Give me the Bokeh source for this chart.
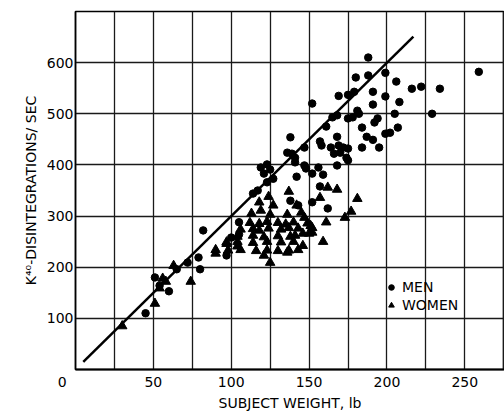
from bokeh.plotting import figure
from bokeh.models import Range1d, FixedTicker, Legend, LegendItem
from bokeh.embed import file_html
from bokeh.resources import INLINE

# Data (subject weight in lb, K-40 disintegrations/sec)
men_x = [45, 51, 54, 60, 65, 72, 79, 80, 82, 97, 100, 105, 105, 114, 117, 119, 123, 125, 121, 127,
         123, 136, 139, 141, 138, 141, 142, 147, 148, 152, 156, 159, 147, 152, 157, 158, 161, 164, 168, 169,
         172, 175, 166, 170, 174, 175, 168, 165, 168, 169, 175, 179, 175, 178, 181, 182, 180, 184, 184, 187,
         191, 195, 188, 188, 191, 191, 194, 192, 199, 199, 199, 202, 206, 207, 208, 205, 216, 222, 234, 229,
         259, 152, 162, 157, 138, 143]
men_y = [110, 180, 164, 153, 196, 209, 219, 196, 272, 223, 258, 288, 264, 344, 350, 395, 401, 391, 383, 373,
         366, 424, 422, 414, 454, 405, 377, 399, 393, 383, 395, 381, 434, 520, 446, 438, 475, 434, 455, 438,
         434, 432, 422, 424, 414, 409, 399, 493, 497, 535, 537, 543, 491, 493, 506, 500, 571, 434, 473, 455,
         449, 434, 610, 575, 543, 518, 491, 483, 580, 534, 461, 463, 563, 473, 523, 500, 549, 553, 549, 500,
         582, 327, 315, 358, 330, 321]

women_x = [30, 51, 54, 56, 58, 63, 74, 90, 97, 104,
           113, 118, 119, 124, 125, 127, 136, 137, 142, 145, 147, 157, 162, 168, 181, 177, 173, 161, 159, 146,
           112, 118, 123, 130, 135, 140, 149,
           106, 114, 118, 124, 132, 137, 143, 152, 151,
           104, 114, 121, 130, 138, 141, 146, 150, 152,
           97, 104, 114, 123, 132, 140,
           90, 98, 106, 116, 123, 130, 137, 143,
           121, 136, 125]
women_y = [85, 129, 159, 178, 172, 203, 172, 227, 246, 241,
           305, 327, 311, 338, 303, 321, 303, 348, 321, 307, 297, 336, 356, 352, 334, 309, 297, 288, 250, 242,
           287, 285, 289, 287, 284, 288, 286,
           274, 275, 272, 276, 274, 277, 276, 277, 281,
           260, 262, 259, 261, 260, 262, 266, 266, 268,
           249, 250, 248, 250, 249, 250,
           234, 233, 234, 232, 233, 232, 233, 234,
           223, 229, 209]

fit_x = [5, 217]
fit_y = [15, 651]

x_ticks = [0, 50, 100, 150, 200, 250]
x_grid = [25, 50, 75, 100, 125, 150, 175, 200, 225, 250, 275]
y_ticks = [100, 200, 300, 400, 500, 600]

FONT = "DejaVu Sans"

p = figure(width=504, height=413, output_backend="svg", toolbar_location=None,
           x_range=Range1d(0, 275.5), y_range=Range1d(0, 700),
           min_border_left=75, min_border_right=0, min_border_top=11, min_border_bottom=44,
           background_fill_color="white", border_fill_color="white")

p.outline_line_color = "black"
p.outline_line_width = 1.5

# grid
p.xgrid.ticker = FixedTicker(ticks=x_grid)
p.ygrid.ticker = FixedTicker(ticks=y_ticks)
for g in (p.xgrid, p.ygrid):
    g.grid_line_color = "#1a1a1a"
    g.grid_line_width = 1.3

# axes
p.xaxis.ticker = FixedTicker(ticks=x_ticks)
p.yaxis.ticker = FixedTicker(ticks=y_ticks)
# the corner "0" sits left of the origin in the original
p.xaxis.major_label_overrides = {0: "0\u00a0\u00a0\u00a0\u00a0\u00a0\u00a0"}
for ax in (p.xaxis, p.yaxis):
    ax.major_tick_line_color = None
    ax.minor_tick_line_color = None
    ax.major_tick_out = 0
    ax.major_tick_in = 0
    ax.axis_line_color = "black"
    ax.major_label_text_font = FONT
    ax.major_label_text_font_size = "14px"
    ax.major_label_text_color = "black"
    ax.axis_label_text_font = FONT
    ax.axis_label_text_font_size = "14px"
    ax.axis_label_text_font_style = "normal"
    ax.axis_label_text_color = "black"
p.xaxis.axis_line_width = 2
p.yaxis.axis_line_width = 1.5
p.xaxis.major_label_standoff = 4
p.yaxis.major_label_standoff = 2
p.xaxis.axis_label = "SUBJECT WEIGHT, lb"
p.yaxis.axis_label = "K\u2074\u2070-DISINTEGRATIONS/ SEC"
p.xaxis.axis_label_standoff = 2
p.yaxis.axis_label_standoff = 5

# fitted line
p.line(fit_x, fit_y, line_color="black", line_width=2.5)

r_men = p.scatter(men_x, men_y, marker="circle", size=7.5, fill_color="black", line_color="black")
r_women = p.scatter(women_x, women_y, marker="triangle", size=9.5, fill_color="black", line_color="black")

legend = Legend(items=[LegendItem(label="MEN", renderers=[r_men]),
                       LegendItem(label="WOMEN", renderers=[r_women])],
                location=(309, 55), orientation="vertical",
                padding=0, margin=0, spacing=0, glyph_width=14, glyph_height=18,
                label_height=18, label_standoff=4,
                label_text_font=FONT, label_text_font_size="14px", label_text_color="black",
                border_line_color=None, background_fill_alpha=0)
p.add_layout(legend)

open("out.html", "w").write(file_html(p, INLINE))
